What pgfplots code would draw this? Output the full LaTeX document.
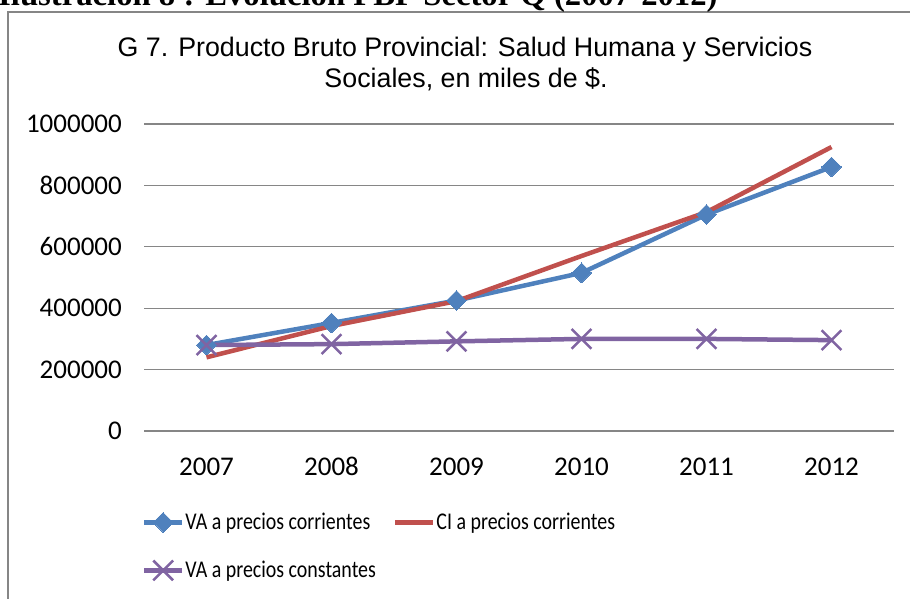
\documentclass[border=0pt]{standalone}
\usepackage{pgfplots}
\pgfplotsset{compat=1.18}
\usepackage{fontspec}
\setmainfont{Carlito}
\newfontfamily\arialf{Liberation Sans}
\newfontfamily\timesf{Liberation Serif}
\newfontfamily\legf[FakeStretch=0.83]{Carlito}
\definecolor{xblue}{HTML}{4F81BD}
\definecolor{xred}{HTML}{C0504D}
\definecolor{xpurple}{HTML}{8064A2}
\definecolor{xgrid}{RGB}{134,134,134}
\begin{document}
\begin{tikzpicture}[x=1pt,y=1pt]
\useasboundingbox (0,0) rectangle (910,598);
\draw[xgrid, line width=2pt] (8,-20) -- (8,586) -- (930,586);
\node[anchor=base west, inner sep=0, font=\timesf\bfseries\fontsize{32.7}{36}\selectfont] at (-2,592) {Ilustración 8 : Evolución PBP Sector Q (2007-2012)};
\node[anchor=base, inner sep=0, font=\arialf\fontsize{26.8}{30}\selectfont] at (465,541) {G 7. Producto Bruto Provincial: Salud Humana y Servicios};
\node[anchor=base, inner sep=0, font=\arialf\fontsize{26.8}{30}\selectfont] at (466,510) {Sociales, en miles de \$.};
\begin{axis}[
  at={(144pt,167pt)}, anchor=south west,
  scale only axis, width=750pt, height=307pt,
  xmin=-0.5, xmax=5.5, ymin=0, ymax=1000000,
  scaled y ticks=false,
  xtick={0,1,2,3,4,5},
  xticklabels={2007,2008,2009,2010,2011,2012},
  ytick={0,200000,400000,600000,800000,1000000},
  yticklabels={0,200000,400000,600000,800000,1000000},
  axis line style={draw=none},
  major tick length=0pt,
  ymajorgrids,
  grid style={xgrid, line width=1.3pt},
  tick label style={font=\fontsize{27}{30}\selectfont, inner sep=0pt},
  yticklabel style={anchor=east, xshift=-22pt},
  xticklabel style={anchor=base, yshift=-44pt},
  clip=false,
  legend columns=2,
  legend cell align=left,
  legend style={at={(axis description cs:-0.003,-0.376)}, anchor=west, draw=none, fill=none,
    font=\legf\fontsize{24}{28}\selectfont, inner sep=0pt,
    nodes={inner sep=1pt},
    row sep=28pt,
    /tikz/every even column/.append style={column sep=16pt}},
  legend image code/.code={\draw[mark repeat=2,mark phase=2,#1] plot coordinates {(0pt,0pt) (19pt,0pt) (38pt,0pt)};},
]
\addplot[xblue, line width=4.5pt, mark=square*, mark size=7pt, mark options={rotate=45, line width=0pt, fill=xblue}]
  coordinates {(0,280000) (1,352000) (2,425000) (3,515000) (4,705000) (5,860000)};
\addlegendentry{VA a precios corrientes}
\addplot[xred, line width=4.5pt, mark=none]
  coordinates {(0,240000) (1,342000) (2,423000) (3,570000) (4,713000) (5,925000)};
\addlegendentry{CI a precios corrientes}
\addplot[xpurple, line width=4.5pt, mark=x, mark size=14pt, mark options={line width=2.5pt}]
  coordinates {(0,280000) (1,283000) (2,292000) (3,300000) (4,300000) (5,296000)};
\addlegendentry{VA a precios constantes}
\end{axis}
\end{tikzpicture}
\end{document}
